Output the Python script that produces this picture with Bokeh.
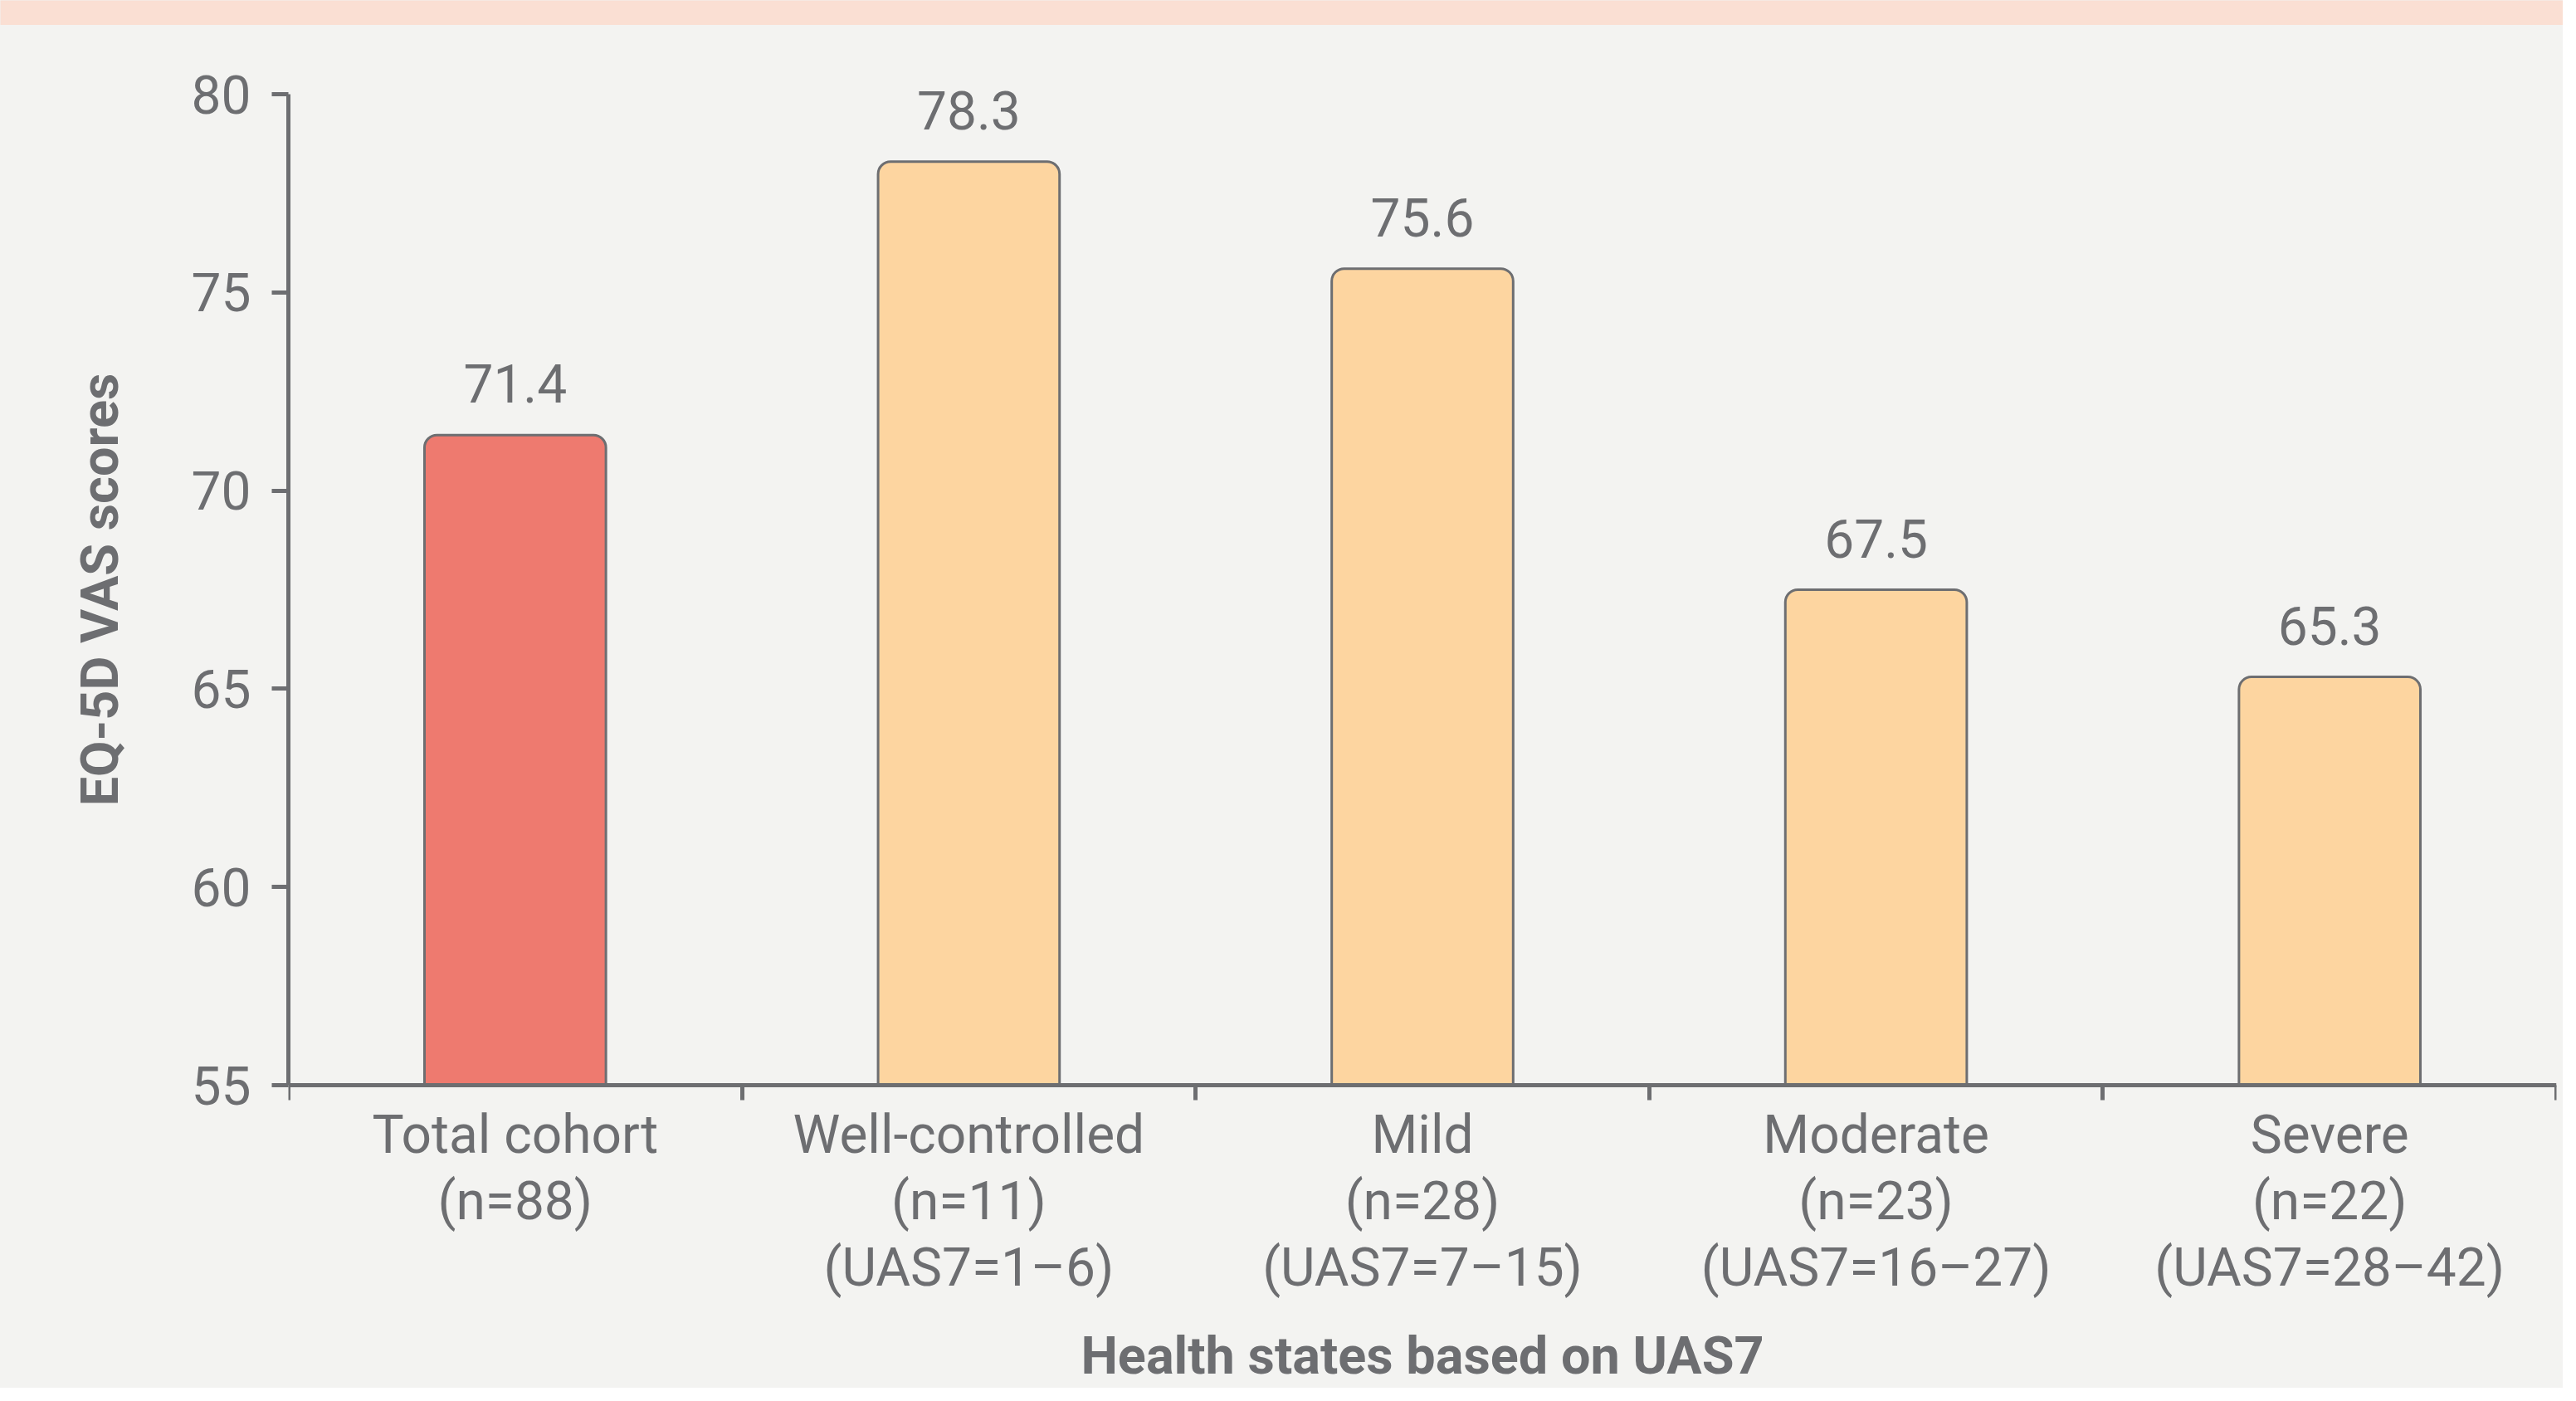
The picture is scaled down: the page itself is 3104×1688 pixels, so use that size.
import math
from bokeh.plotting import figure
from bokeh.models import Range1d, FixedTicker, LabelSet, Label, ColumnDataSource
from bokeh.layouts import column, row
from bokeh.core.properties import value
from bokeh.embed import file_html
from bokeh.resources import INLINE

# ---- data ----
categories = ["Total cohort", "Well-controlled", "Mild", "Moderate", "Severe"]
n_values = [88, 11, 28, 23, 22]
uas7_ranges = [None, "1–6", "7–15", "16–27", "28–42"]
scores = [71.4, 78.3, 75.6, 67.5, 65.3]
score_labels = ["71.4", "78.3", "75.6", "67.5", "65.3"]
y_ticks = [55, 60, 65, 70, 75, 80]
y_min, y_max = 55, 80
y_title = "EQ-5D VAS scores"
x_title = "Health states based on UAS7"

# ---- style ----
GREY = "#6D6E71"
BG = "#F3F3F1"
BAND = "#FADFD3"
RED = "#EE7A6F"
ORANGE = "#FDD5A0"
FONT = "Roboto"

W = 3088
BAND_H = 30
H = 1642
TITLE_W = 200
AXIS_TOP_PX = 83        # pixel (within main figure) of the y_max tick
AXIS_BOTTOM_PX = 1277   # pixel (within main figure) of the y_min axis line
ppu = (AXIS_BOTTOM_PX - AXIS_TOP_PX) / (y_max - y_min)
range_end = y_max + AXIS_TOP_PX / ppu
range_start = y_min - (H - AXIS_BOTTOM_PX) / ppu

tick_text = []
for c, n, r in zip(categories, n_values, uas7_ranges):
    lines = [c, f"(n={n})"]
    if r:
        lines.append(f"(UAS7={r})")
    tick_text.append("\n".join(lines))

xs = list(range(len(categories)))
colors = [RED] + [ORANGE] * (len(categories) - 1)
label_y = [s + 39 / ppu for s in scores]
src = ColumnDataSource(dict(x=xs, top=scores, color=colors, ly=label_y, txt=score_labels))


def plain(fig, color):
    fig.background_fill_color = color
    fig.border_fill_color = color
    fig.outline_line_color = None
    fig.grid.visible = False


# top band
band = figure(width=W, height=BAND_H, toolbar_location=None, output_backend="svg",
              x_axis_location=None, y_axis_location=None, min_border=0)
plain(band, BAND)

# y title panel
tfig = figure(width=TITLE_W, height=H, toolbar_location=None, output_backend="svg",
              x_axis_location=None, y_axis_location=None, min_border=0,
              x_range=Range1d(0, TITLE_W), y_range=Range1d(0, H))
plain(tfig, BG)
tfig.add_layout(Label(x=120, y=H - (AXIS_TOP_PX + AXIS_BOTTOM_PX) / 2, text=y_title,
                      angle=math.pi / 2, text_align="center", text_baseline="middle",
                      text_font=FONT, text_font_style="bold", text_font_size="63px",
                      text_color=GREY))

p = figure(width=W - TITLE_W, height=H, toolbar_location=None, output_backend="svg",
           x_range=Range1d(-0.5, len(categories) - 0.5),
           y_range=Range1d(range_start, range_end))
p.min_border_left = 347 - TITLE_W
p.min_border_right = 8
p.min_border_top = 0
p.min_border_bottom = 0
plain(p, BG)

p.vbar(x="x", top="top", bottom=y_min, width=0.4, source=src, fill_color="color",
       line_color=GREY, line_width=3, border_radius=(15, 15, 0, 0))

labels = LabelSet(x="x", y="ly", text="txt", source=src, text_align="center",
                  text_baseline="alphabetic", text_font=value(FONT),
                  text_font_size=value("64px"), text_color=value(GREY))
p.add_layout(labels)

# y axis
ya = p.yaxis[0]
ya.bounds = (y_min, y_max)
ya.ticker = FixedTicker(ticks=y_ticks, minor_ticks=[])
ya.axis_line_color = GREY
ya.axis_line_width = 5
ya.major_tick_line_color = GREY
ya.major_tick_line_width = 5
ya.major_tick_out = 20
ya.major_tick_in = 0
ya.minor_tick_out = 0
ya.minor_tick_in = 0
ya.major_label_standoff = 25
ya.major_label_text_font = FONT
ya.major_label_text_font_size = "64px"
ya.major_label_text_color = GREY

# x axis
xa = p.xaxis[0]
xa.fixed_location = y_min
xa.ticker = FixedTicker(ticks=xs, minor_ticks=[x - 0.5 for x in xs] + [xs[-1] + 0.5])
xa.axis_line_color = GREY
xa.axis_line_width = 5
xa.major_tick_out = 0
xa.major_tick_in = 0
xa.major_tick_line_color = None
xa.minor_tick_line_color = GREY
xa.minor_tick_line_width = 5
xa.minor_tick_out = 18
xa.minor_tick_in = 0
xa.major_label_overrides = {x: t for x, t in zip(xs, tick_text)}
xa.major_label_standoff = 4
xa.major_label_text_font = FONT
xa.major_label_text_font_size = "64px"
xa.major_label_text_color = GREY
xa.major_label_text_line_height = 1.07

xt = Label(x=(len(categories) - 1) / 2, y=y_min - (1603 - AXIS_BOTTOM_PX) / ppu,
           text=x_title, text_align="center",
           text_baseline="middle", text_font=FONT, text_font_style="bold",
           text_font_size="63px", text_color=GREY)
p.add_layout(xt)

layout = column(band, row(tfig, p, spacing=0, styles={"background-color": BG}),
                spacing=0, styles={"background-color": BG})
open("out.html", "w").write(file_html(layout, INLINE))
